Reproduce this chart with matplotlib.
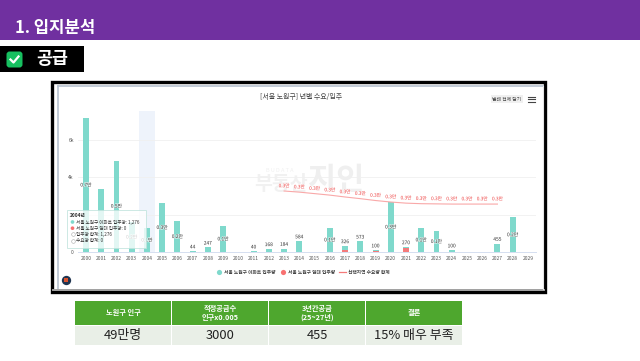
import matplotlib
matplotlib.use("Agg")
import matplotlib.pyplot as plt
import matplotlib.patheffects as pe
from matplotlib.patches import Rectangle, FancyBboxPatch

plt.rcParams['font.family'] = ['Noto Sans CJK KR', 'DejaVu Sans']

years = list(range(2000, 2030))
apt = [7185, 3380, 4880, 1600, 1276, 2630, 1660, 44, 247, 1400, 0, 40, 168, 184, 584, 0,
       1300, 200, 573, 20, 2680, 40, 1300, 1130, 100, 0, 0, 455, 1850, 0]
other = [0, 0, 0, 0, 0, 0, 0, 0, 0, 0, 0, 0, 0, 0, 0, 0,
         0, 126, 0, 80, 0, 230, 0, 0, 0, 0, 0, 0, 0, 0]
bar_labels = ['0.7만', '', '0.5만', '0.2만', '0.1만', '0.3만', '0.2만', '44', '247', '0.1만', '', '40', '168', '184', '584', '',
              '0.1만', '326', '573', '100', '0.3만', '270', '0.1만', '0.1만', '100', '', '', '455', '0.2만', '']
demand_years = list(range(2013, 2028))
demand = [3270, 3210, 3130, 3050, 2950, 2860, 2760, 2680, 2620, 2590, 2580, 2570, 2570, 2570, 2570]
yticks = [0, 2000, 4000, 6000]
ytick_labels = ['0', '2k', '4k', '6k']

headers = ['노원구 인구', '적정공급수\n인구x0.005', '3년간공급\n(25~27년)', '결론']
row = ['49만명', '3000', '455', '15% 매우 부족']
legend_items = ['서울 노원구 아파트 입주량', '서울 노원구 임대 입주량', '선택지역 수요량 합계']
tooltip_lines = ['2004년', '서울 노원구 아파트 입주량: 1,276', '서울 노원구 임대 입주량: 0', '입주량 합계: 1,276', '수요량 합계: 0']

W, H = 640, 361
TEAL = '#7fd9cc'
RED = '#f47a7a'
LINE = '#f9a8a8'
halo = [pe.withStroke(linewidth=0.8, foreground='white', alpha=0.7)]

fig = plt.figure(figsize=(6.4, 3.61), dpi=100)

# slide layer in pixels
bg = fig.add_axes([0, 0, 1, 1])
bg.set_xlim(0, W)
bg.set_ylim(H, 0)
bg.axis('off')

bg.add_patch(Rectangle((0, 0), W, 40, color='#7030a0', lw=0))
bg.text(15, 28.5, '1. 입지분석', color='white', fontsize=12, fontweight='bold', va='center')
bg.add_patch(Rectangle((0, 46), 84, 26, color='black', lw=0))
bg.add_patch(FancyBboxPatch((8, 53), 13, 13, boxstyle='round,pad=1.5,rounding_size=3', color='#17c060', lw=0))
bg.plot([10.5, 13.5, 18.5], [59.5, 62.5, 56.5], color='white', lw=1.6)
bg.text(52.5, 59, '공급', color='white', fontsize=12.5, fontweight='bold', ha='center', va='center')

bg.add_patch(Rectangle((51.5, 81.5), 493.5, 210, fc='white', ec='black', lw=2.4))
bg.plot([58, 58], [86, 289], color='#b8c2d0', lw=1.2)
bg.plot([58, 543], [86, 86], color='#b8c2d0', lw=1.2)
bg.plot([53, 544], [289.5, 289.5], color='#a0a0a0', lw=1.4)
bg.plot([543, 543], [86, 289], color='#e4e4e4', lw=0.8)

bg.text(301, 97, '[서울 노원구] 년별 수요/입주', fontsize=5, color='#444444', ha='center', va='center')
bg.text(507, 99, '범례 전체 닫기', fontsize=3.5, color='#444444', ha='center', va='center',
        bbox=dict(fc='#f0f0f0', ec='none', pad=1.2))
for yy in [96.5, 99, 101.5]:
    bg.plot([528, 535], [yy, yy], color='#444444', lw=0.8)

# watermark
bg.text(280, 170, 'B U D A T A', fontsize=4, color='#f0f0f0', ha='center', va='center')
bg.text(281, 185, '부동산', fontsize=14, color='#f1f1f1', ha='center', va='center', fontweight='bold')
bg.text(336, 180, '지인', fontsize=22, color='#efefef', ha='center', va='center', fontweight='bold')

# legend
bg.scatter([219], [272], s=14, color=TEAL, lw=0)
bg.text(224, 272, legend_items[0], fontsize=3.4, color='#444444', va='center', fontweight='bold')
bg.scatter([283], [272], s=14, color='#f87171', lw=0)
bg.text(288, 272, legend_items[1], fontsize=3.4, color='#444444', va='center', fontweight='bold')
bg.plot([339, 346], [272, 272], color=RED, lw=0.9)
bg.text(348, 272, legend_items[2], fontsize=3.4, color='#444444', va='center', fontweight='bold')
bg.scatter([66], [279.5], s=45, color='#1f3450', lw=0)
bg.scatter([66], [279.5], s=9, color='#d8532f', marker='s', lw=0)

# table
cols = [75, 172, 269, 366]
for i, x0 in enumerate(cols):
    bg.add_patch(Rectangle((x0, 301), 96, 24, color='#4ea72e', lw=0))
    bg.add_patch(Rectangle((x0, 326), 96, 19, color='#e9efe7', lw=0))
    bg.text(x0 + 48, 312.8, headers[i], color='white', fontsize=5.2, fontweight='bold', ha='center', va='center', linespacing=1.35)
    bg.text(x0 + 48, 335.5, row[i], color='#222222', fontsize=9.3, ha='center', va='center')

# chart
L, R, T, B = 78, 536, 111, 252
ax = fig.add_axes([L / W, 1 - B / H, (R - L) / W, (B - T) / H])
ax.patch.set_alpha(0)
ax.set_xlim(1999.475, 2029.53)
ax.set_ylim(0, 7560)
for s in ['top', 'left', 'right']:
    ax.spines[s].set_visible(False)
ax.spines['bottom'].set_color('#d5def0')
ax.spines['bottom'].set_linewidth(0.7)
ax.grid(axis='y', color='#f0f0f0', lw=0.6)
ax.set_axisbelow(True)
ax.axvspan(2003.5, 2004.5, color='#eef3fb', lw=0, zorder=0)

ax.bar(years, other, width=0.39, color=RED, zorder=2)
ax.bar(years, apt, width=0.39, bottom=other, color=TEAL, zorder=2)
ax.plot(demand_years, demand, color=LINE, lw=0.8, zorder=3)

for y, a, o, lab in zip(years, apt, other, bar_labels):
    if not lab:
        continue
    total = a + o
    if total > 1000:
        yp = total / 2
    else:
        yp = total + 230
    if y == 2002:
        yp = 2460
    ax.text(y, yp, lab, fontsize=3.5, color='#444444', ha='center', va='center', zorder=4, path_effects=halo)
for y, d in zip(demand_years, demand):
    ax.annotate('0.3만', (y, d), xytext=(0, 2), textcoords='offset points', fontsize=3.4,
                color='#f05050', ha='center', va='bottom', zorder=4, path_effects=halo)

ax.set_xticks(years)
ax.set_xticklabels(years, fontsize=3.5, color='#555555')
ax.set_yticks(yticks)
ax.set_yticklabels(ytick_labels, fontsize=3.5, color='#555555')
ax.tick_params(length=0, pad=3)

# tooltip on top of the bars
top = fig.add_axes([0, 0, 1, 1])
top.set_xlim(0, W)
top.set_ylim(H, 0)
top.axis('off')
top.patch.set_alpha(0)
top.add_patch(Rectangle((67, 210), 79, 38, fc='white', ec='#bfe3dc', lw=0.7, alpha=0.78))
top.text(70, 215.5, tooltip_lines[0], fontsize=3.4, color='#333333', fontweight='bold', va='center')
dots = [TEAL, '#f87171', 'white', 'white']
for i, c in enumerate(dots):
    yy = 222 + i * 6.2
    top.scatter([72.5], [yy], s=7, color=c, edgecolors='#aaaaaa' if c == 'white' else 'none', linewidths=0.4)
    top.text(76, yy, tooltip_lines[i + 1], fontsize=3.3, color='#333333', va='center')

fig.savefig('out.png', dpi=100)
